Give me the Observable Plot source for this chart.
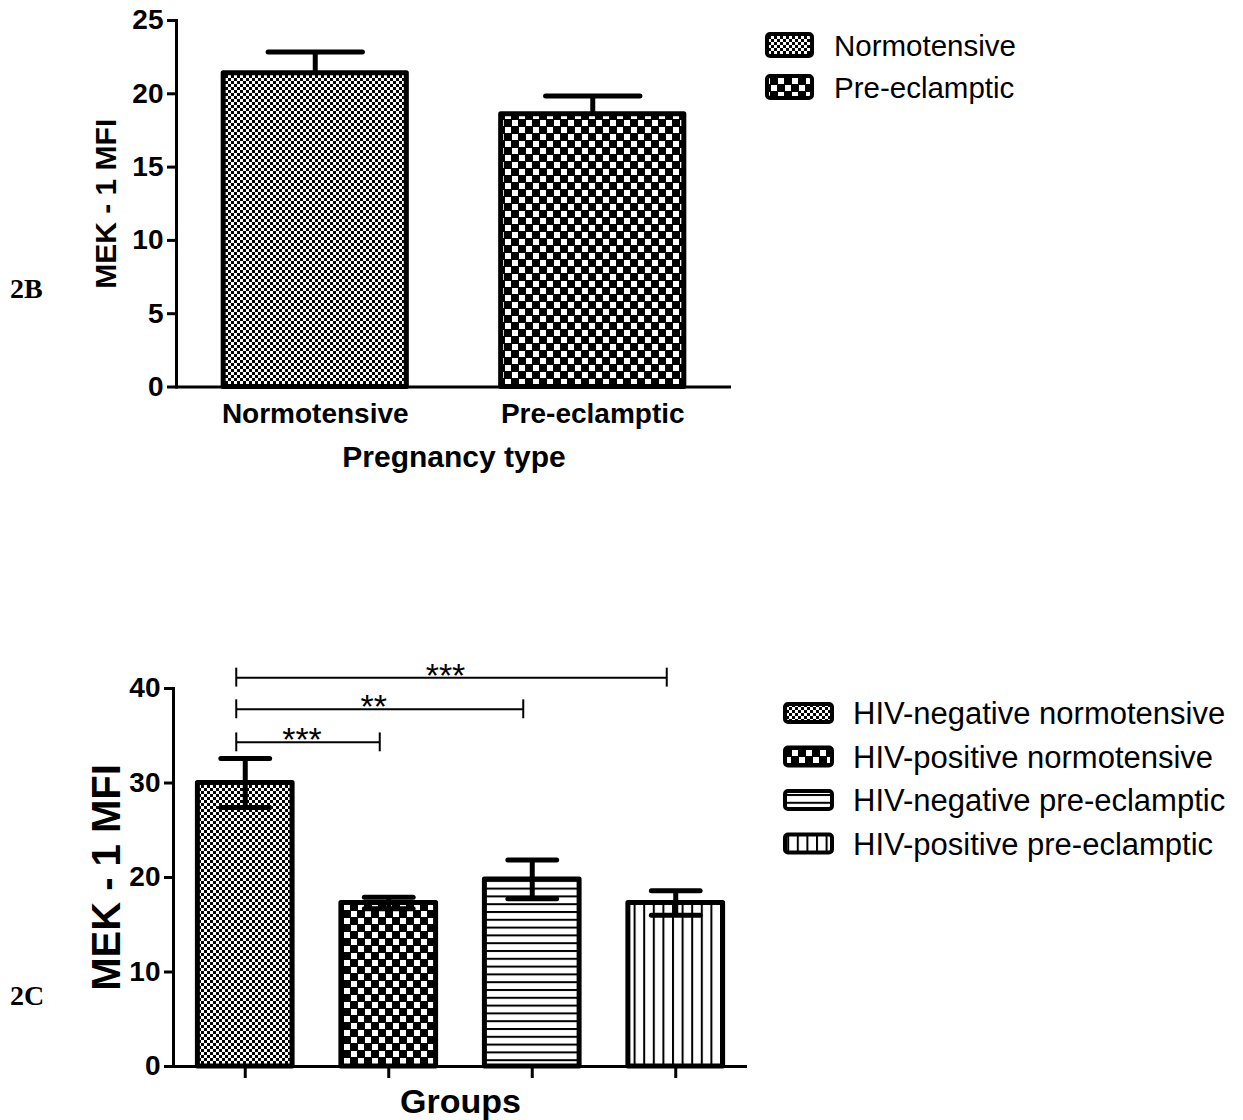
<!DOCTYPE html>
<html>
<head>
<meta charset="utf-8">
<script src="https://cdn.jsdelivr.net/npm/d3@7"></script>
<script src="https://cdn.jsdelivr.net/npm/@observablehq/plot@0.6"></script>
<style>
  body { margin: 0; background: #fff; }
  #wrap { position: relative; width: 1243px; height: 1120px; background: #fff; }
  #wrap > div { position: absolute; left: 0; }
</style>
</head>
<body>
<svg width="0" height="0" style="position:absolute">
  <defs>
    <pattern id="pFine" width="6" height="6" patternUnits="userSpaceOnUse">
      <rect width="6" height="6" fill="#fff"/>
      <rect x="0" y="0" width="3" height="3" fill="#000"/>
      <rect x="3" y="3" width="3" height="3" fill="#000"/>
    </pattern>
    <pattern id="pCoarse" width="14" height="14" patternUnits="userSpaceOnUse">
      <rect width="14" height="14" fill="#000"/>
      <rect x="1" y="1" width="6" height="6" fill="#fff"/>
      <rect x="8" y="8" width="6" height="6" fill="#fff"/>
    </pattern>
    <pattern id="pHoriz" width="8" height="7.8" patternUnits="userSpaceOnUse">
      <rect width="8" height="7.8" fill="#fff"/>
      <rect x="0" y="0" width="8" height="2" fill="#000"/>
    </pattern>
    <pattern id="pVert" width="9.6" height="8" patternUnits="userSpaceOnUse">
      <rect width="9.6" height="8" fill="#fff"/>
      <rect x="0" y="0" width="2" height="8" fill="#000"/>
    </pattern>
  </defs>
</svg>
<div id="wrap">
  <div id="panelB" style="top:0"></div>
  <div id="panelC" style="top:560px"></div>
</div>
<script>
// ---------------- Data: panel 2B ----------------
const groupsB = ["Normotensive", "Pre-eclamptic"];
const meanB = [21.4, 18.6];
const semB = [1.45, 1.25];
const yTicksB = [0, 5, 10, 15, 20, 25];

// ---------------- Data: panel 2C ----------------
const groupsC = ["HIV-negative normotensive", "HIV-positive normotensive", "HIV-negative pre-eclamptic", "HIV-positive pre-eclamptic"];
const meanC = [30.0, 17.3, 19.8, 17.3];
const semC = [2.6, 0.6, 2.05, 1.3];
const yTicksC = [0, 10, 20, 30, 40];
const bracketFrom = [0, 0, 0];
const bracketTo = [1, 2, 3];
const bracketY = [34.3, 37.8, 41.15];
const bracketLabel = ["***", "**", "***"];

// ---------------- Styles ----------------
const PAT_B = ["url(#pFine)", "url(#pCoarse)"];
const PAT_C = ["url(#pFine)", "url(#pCoarse)", "url(#pHoriz)", "url(#pVert)"];
const FONT = "'Liberation Sans', Arial, Helvetica, sans-serif";
const HALF = 0.33, CAP = 0.17;

const dataB = groupsB.map((g, i) => ({i, group: g, mean: meanB[i], sem: semB[i]}));
const dataC = groupsC.map((g, i) => ({i, group: g, mean: meanC[i], sem: semC[i]}));
const brackets = bracketFrom.map((f, k) => ({from: f, to: bracketTo[k], y: bracketY[k], label: bracketLabel[k]}));

function addLegend(svg, labels, pats, o) {
  const g = d3.select(svg).append("g").attr("text-anchor", "start");
  labels.forEach((lab, k) => {
    const cy = o.y0 + k * o.step;
    g.append("rect").attr("x", o.x).attr("y", cy - o.h / 2).attr("width", o.w).attr("height", o.h)
      .attr("rx", 3).attr("fill", pats[k]).attr("stroke", "#000").attr("stroke-width", 4);
    g.append("text").attr("x", o.tx).attr("y", cy).attr("dy", "0.36em")
      .attr("font-family", FONT).attr("font-size", o.fs).style("font-weight", "normal")
      .attr("text-anchor", "start").attr("fill", "#000").text(lab);
  });
}
function addPanelLabel(svg, txt, y) {
  d3.select(svg).append("text").attr("x", 10).attr("y", y).attr("text-anchor", "start")
    .style("font-family", "'Liberation Serif', 'Times New Roman', serif")
    .style("font-weight", "bold").attr("font-size", 28).attr("fill", "#000").text(txt);
}

// ---------------- Panel 2B ----------------
const plotB = Plot.plot({
  width: 1243, height: 560,
  marginLeft: 176, marginRight: 512, marginTop: 20, marginBottom: 173.5,
  x: {domain: [-0.5, groupsB.length - 0.5]},
  y: {domain: [0, 25]},
  color: {type: "identity"},
  style: {fontFamily: FONT, fontWeight: "bold", color: "#000", background: "#fff", overflow: "visible"},
  marks: [
    Plot.rect(dataB, {x1: d => d.i - HALF, x2: d => d.i + HALF, y1: 0, y2: "mean",
      fill: d => PAT_B[d.i], stroke: "#000", strokeWidth: 5, strokeLinejoin: "round"}),
    Plot.ruleX(dataB, {x: "i", y1: "mean", y2: d => d.mean + d.sem, stroke: "#000", strokeWidth: 5}),
    Plot.link(dataB, {x1: d => d.i - CAP, x2: d => d.i + CAP, y1: d => d.mean + d.sem, y2: d => d.mean + d.sem,
      stroke: "#000", strokeWidth: 5, strokeLinecap: "round"}),
    Plot.frame({anchor: "left", stroke: "#000", strokeWidth: 3}),
    Plot.ruleY([0], {stroke: "#000", strokeWidth: 3}),
    Plot.axisY({ticks: yTicksB, tickSize: 9, tickPadding: 4, fontSize: 28, strokeWidth: 3, label: null}),
    Plot.axisX({ticks: dataB.map(d => d.i), tickFormat: i => groupsB[i], tickSize: 0, tickPadding: 16, fontSize: 28, label: null}),
    Plot.text(["Pregnancy type"], {text: d => d, frameAnchor: "bottom", dy: 80, fontSize: 30}),
    Plot.text(["MEK - 1 MFI"], {text: d => d, frameAnchor: "left", textAnchor: "middle", rotate: -90, dx: -70, fontSize: 30})
  ]
});
document.getElementById("panelB").appendChild(plotB);
addLegend(plotB, groupsB, PAT_B, {x: 767, w: 45, h: 22, y0: 45, step: 42, tx: 834, fs: 29.5});
addPanelLabel(plotB, "2B", 298);

// ---------------- Panel 2C ----------------
const plotC = Plot.plot({
  width: 1243, height: 560,
  marginLeft: 173, marginRight: 496, marginTop: 128, marginBottom: 54,
  x: {domain: [-0.5, groupsC.length - 0.5]},
  y: {domain: [0, 40]},
  color: {type: "identity"},
  style: {fontFamily: FONT, fontWeight: "bold", color: "#000", background: "#fff", overflow: "visible"},
  marks: [
    Plot.rect(dataC, {x1: d => d.i - HALF, x2: d => d.i + HALF, y1: 0, y2: "mean",
      fill: d => PAT_C[d.i], stroke: "#000", strokeWidth: 5, strokeLinejoin: "round"}),
    Plot.ruleX(dataC, {x: "i", y1: d => d.mean - d.sem, y2: d => d.mean + d.sem, stroke: "#000", strokeWidth: 5}),
    Plot.link(dataC, {x1: d => d.i - CAP, x2: d => d.i + CAP, y1: d => d.mean + d.sem, y2: d => d.mean + d.sem,
      stroke: "#000", strokeWidth: 5, strokeLinecap: "round"}),
    Plot.link(dataC, {x1: d => d.i - CAP, x2: d => d.i + CAP, y1: d => d.mean - d.sem, y2: d => d.mean - d.sem,
      stroke: "#000", strokeWidth: 5, strokeLinecap: "round"}),
    Plot.frame({anchor: "left", stroke: "#000", strokeWidth: 3}),
    Plot.ruleY([0], {stroke: "#000", strokeWidth: 3}),
    Plot.axisY({ticks: yTicksC, tickSize: 9, tickPadding: 4, fontSize: 28, strokeWidth: 3, label: null}),
    Plot.axisX({ticks: dataC.map(d => d.i), tickFormat: () => "", tickSize: 12, strokeWidth: 3, label: null}),
    // significance brackets
    Plot.link(brackets, {x1: "from", x2: "to", y1: "y", y2: "y", dx: -9, stroke: "#000", strokeWidth: 2}),
    Plot.ruleX(brackets, {x: "from", y1: d => d.y - 1, y2: d => d.y + 1, dx: -9, stroke: "#000", strokeWidth: 2}),
    Plot.ruleX(brackets, {x: "to", y1: d => d.y - 1, y2: d => d.y + 1, dx: -9, stroke: "#000", strokeWidth: 2}),
    Plot.text(brackets, {x: d => (d.from + d.to) / 2, y: "y", text: "label", dx: -15, dy: -2, fontSize: 34, fontWeight: "normal"}),
    Plot.text(["Groups"], {text: d => d, frameAnchor: "bottom", dy: 46, fontSize: 34}),
    Plot.text(["MEK - 1 MFI"], {text: d => d, frameAnchor: "left", textAnchor: "middle", rotate: -90, dx: -66, fontSize: 40})
  ]
});
document.getElementById("panelC").appendChild(plotC);
addLegend(plotC, groupsC, PAT_C, {x: 785, w: 47, h: 18, y0: 153, step: 43.5, tx: 853, fs: 31});
addPanelLabel(plotC, "2C", 445);
</script>
</body>
</html>
